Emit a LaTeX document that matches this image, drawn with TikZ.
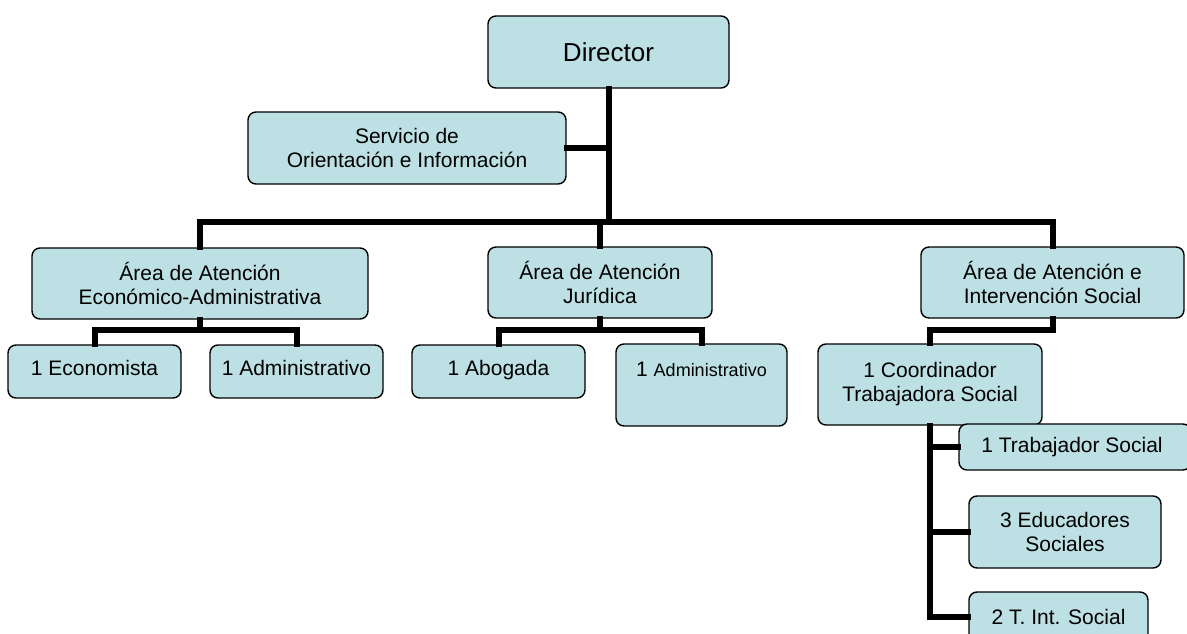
\documentclass[tikz,border=0pt]{standalone}
\usepackage{fontspec}
\setmainfont{Liberation Sans}
\definecolor{boxfill}{HTML}{BCE0E3}
\tikzset{
  orgbox/.style={draw=black, line width=1.4pt, fill=boxfill, rounded corners=8pt,
    inner sep=0pt, align=center, font=\fontsize{21}{24}\selectfont},
  highbox/.style={orgbox, text height=15pt, text depth=8pt},
  conn/.style={line width=6pt, line join=miter, line cap=rect},
}
\begin{document}
\begin{tikzpicture}[x=1pt,y=-1pt]
\useasboundingbox (0,0) rectangle (1187,634);
% boxes
\node[orgbox, minimum width=241pt, minimum height=72pt, font=\fontsize{26}{30}\selectfont] (dir) at (608.5,52) {Director};
\node[orgbox, minimum width=318pt, minimum height=72pt] (serv) at (407,148) {Servicio de\\Orientación e Información};
\node[orgbox, minimum width=336pt, minimum height=71pt] (eco) at (200,283.5) {Área de Atención\\Económico-Administrativa};
\node[orgbox, minimum width=224pt, minimum height=71pt] (jur) at (600,282.5) {Área de Atención\\Jurídica};
\node[orgbox, minimum width=263pt, minimum height=71pt] (soc) at (1052.5,282.5) {Área de Atención e\\Intervención Social};
\node[highbox, minimum width=173pt, minimum height=53pt] (econ) at (94.5,371.5) {1 Economista};
\node[highbox, minimum width=173pt, minimum height=53pt] (adm1) at (296.5,371.5) {1 Administrativo};
\node[highbox, minimum width=173pt, minimum height=53pt] (abog) at (498.5,371.5) {1 Abogada};
\node[orgbox, minimum width=171pt, minimum height=82pt] (adm2) at (701.5,385) {1 {\fontsize{18}{24}\selectfont Administrativo}\\[8pt]\mbox{}};
\node[orgbox, minimum width=224pt, minimum height=81pt] (coord) at (930,384.5) {1 Coordinador\\Trabajadora Social};
\node[orgbox, minimum width=232pt, minimum height=46pt] (trab) at (1075,447) {\hspace*{-6pt}1 Trabajador Social};
\node[orgbox, minimum width=192pt, minimum height=72pt] (edu) at (1065,532) {3 Educadores\\Sociales};
\node[orgbox, minimum width=179pt, minimum height=50pt] (tint) at (1058.5,617) {2 T. Int. Social};
% levels
\coordinate (lv1) at (0,222);
\coordinate (lv2) at (0,330);
% connectors
\draw[conn] (dir.south) -- (dir.south |- lv1);
\draw[conn] (serv.east) -- (serv.east -| dir.south);
\draw[conn] (eco.north) -- (eco.north |- lv1) -- (soc.north |- lv1) -- (soc.north);
\draw[conn] (jur.north) -- (jur.north |- lv1);
\draw[conn] (eco.south) -- (eco.south |- lv2);
\draw[conn] (econ.north) -- (econ.north |- lv2) -- (adm1.north |- lv2) -- (adm1.north);
\draw[conn] (jur.south) -- (jur.south |- lv2);
\draw[conn] (abog.north) -- (abog.north |- lv2) -- (adm2.north |- lv2) -- (adm2.north);
\draw[conn] (soc.south) -- (soc.south |- lv2) -- (coord.north |- lv2) -- (coord.north);
\draw[conn] (coord.south) -- (coord.south |- tint.west) -- (tint.west);
\draw[conn] (coord.south |- trab.west) -- (trab.west);
\draw[conn] (coord.south |- edu.west) -- (edu.west);
\end{tikzpicture}
\end{document}
